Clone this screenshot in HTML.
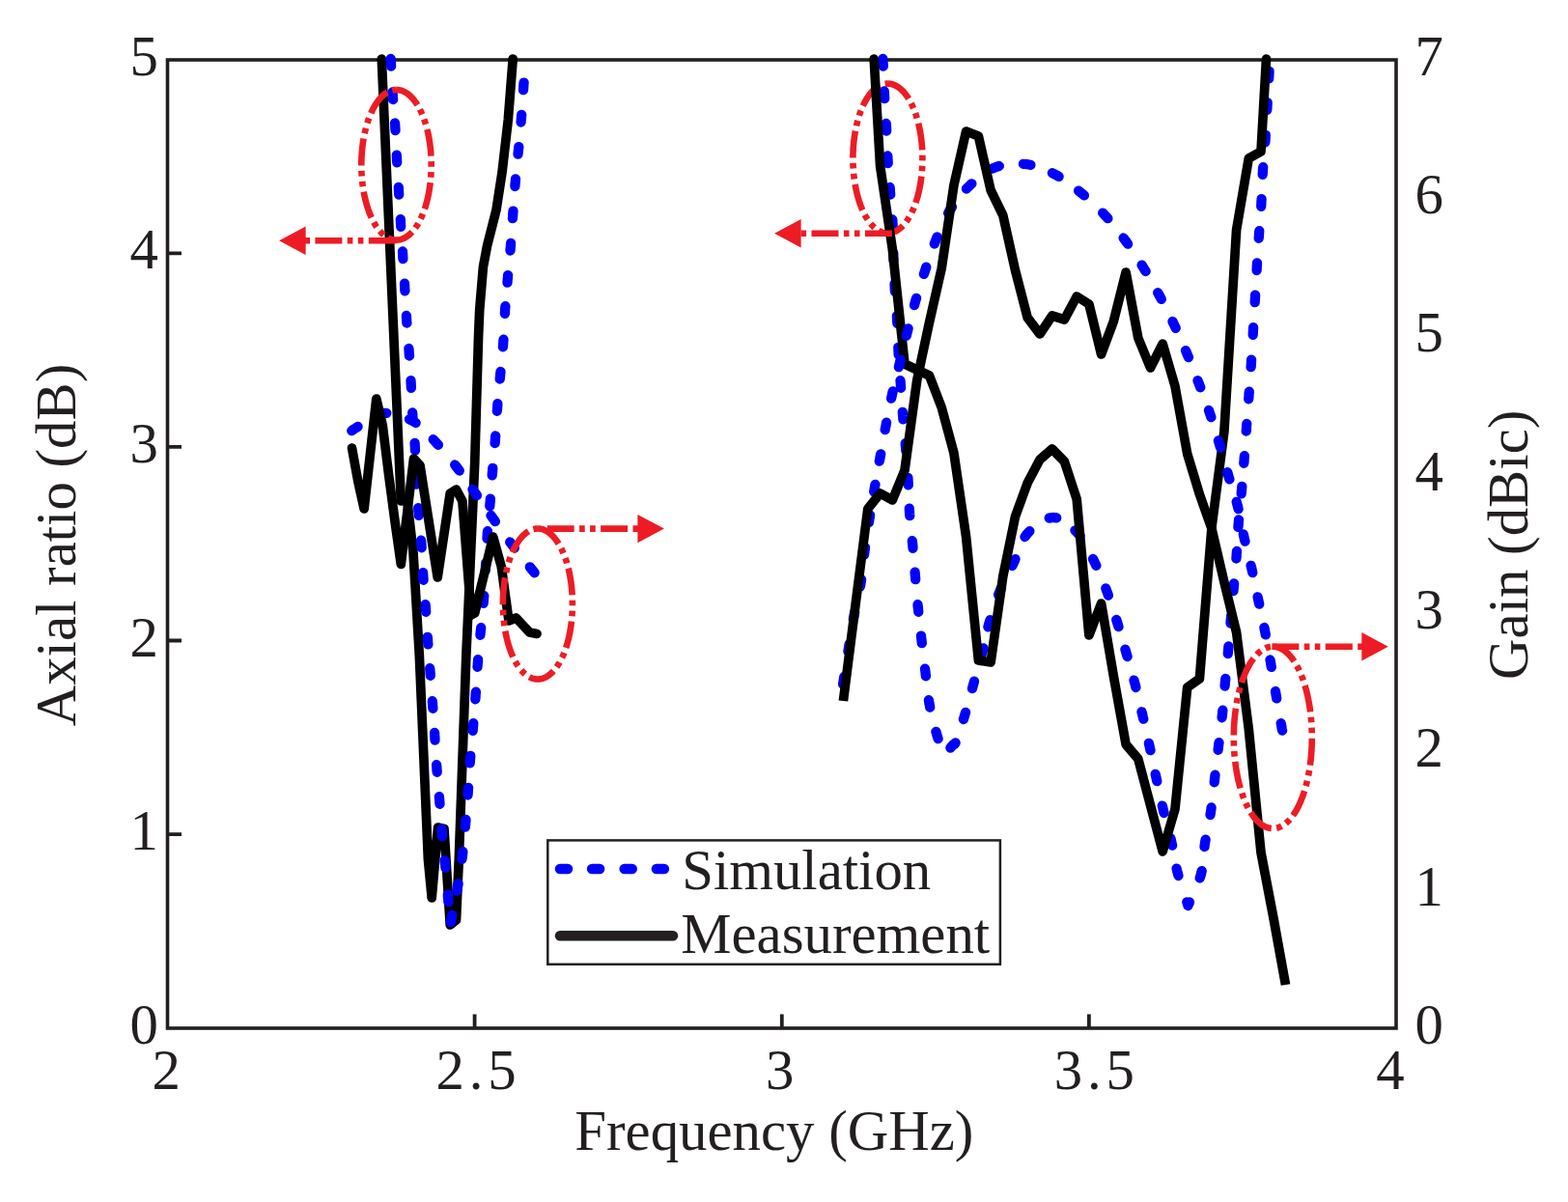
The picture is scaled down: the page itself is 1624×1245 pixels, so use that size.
<!DOCTYPE html>
<html lang="en"><head><meta charset="utf-8"><title>Axial ratio and gain versus frequency</title>
<style>html,body{margin:0;padding:0;background:#fff}body{width:1624px;height:1245px;overflow:hidden}</style>
</head><body>
<svg width="1624" height="1245" viewBox="0 0 1624 1245" style="display:block">
<rect width="1624" height="1245" fill="#fff"/>
<rect x="173.5" y="62.0" width="1272.5" height="1003.0" fill="none" stroke="#231f20" stroke-width="3.6"/>
<path d="M173.5 864.1 h14.5 M173.5 663.5 h14.5 M173.5 462.9 h14.5 M173.5 262.3 h14.5 M491.6 1065.0 v-14.5 M809.8 1065.0 v-14.5 M1127.9 1065.0 v-14.5" stroke="#231f20" stroke-width="3.8" fill="none"/>
<path d="M914.4 61.0 L914.5 62.9 L914.6 64.8 L914.7 66.7 L914.8 68.6 M915.8 94.5 L915.9 96.4 L916.0 98.3 L916.1 100.2 L916.2 102.1 M917.8 128.0 L917.9 129.9 L918.0 131.8 L918.1 133.7 L918.2 135.6 M919.3 161.5 L919.4 163.4 L919.5 165.3 L919.6 167.2 L919.7 169.1 M921.6 194.0 L921.8 195.9 L921.9 197.8 L922.0 199.7 L922.2 201.6 M924.3 227.5 L924.4 229.4 L924.5 231.3 L924.6 233.2 L924.7 235.1 M925.3 262.2 L925.3 264.1 L925.4 266.0 L925.5 267.9 L925.5 269.8 M926.5 294.2 L926.6 296.1 L926.7 298.0 L926.8 299.9 L926.9 301.8 M928.9 327.2 L929.0 329.1 L929.1 331.0 L929.2 332.9 L929.3 334.8 M930.3 359.8 L930.4 361.7 L930.5 363.6 L930.6 365.5 L930.7 367.4 M932.5 394.2 L932.7 396.1 L932.8 398.0 L932.9 399.9 L933.1 401.8 M934.8 426.8 L935.0 428.7 L935.1 430.6 L935.3 432.5 L935.4 434.4 M937.7 459.2 L937.8 461.1 L938.0 463.0 L938.2 464.9 L938.3 466.8 M940.4 494.8 L940.5 496.7 L940.6 498.6 L940.7 500.5 L940.8 502.4 M941.8 526.6 L941.9 528.5 L942.0 530.4 L942.1 532.3 L942.3 534.2 M944.8 560.2 L945.0 562.1 L945.2 564.0 L945.4 565.9 L945.5 567.8 M947.6 592.6 L947.7 594.5 L947.9 596.4 L948.1 598.3 L948.2 600.2 M950.5 626.2 L950.7 628.1 L950.9 630.0 L951.1 631.9 L951.3 633.8 M954.0 658.6 L954.2 660.5 L954.4 662.4 L954.6 664.3 L954.8 666.2 M958.0 692.7 L958.3 694.6 L958.5 696.5 L958.7 698.4 L958.9 700.3 M961.9 725.2 L962.2 727.0 L962.5 728.9 L962.9 730.8 L963.2 732.6 M969.4 757.9 L970.0 759.8 L970.5 761.6 L971.0 763.4 L971.6 765.2 M984.4 774.6 L985.6 773.2 L986.8 771.7 L988.5 770.9 L989.6 769.4 M997.9 745.0 L998.5 743.2 L999.0 741.4 L999.5 739.6 L1000.1 737.8 M1007.0 713.1 L1007.5 711.2 L1008.0 709.4 L1008.5 707.6 L1009.0 705.7 M1016.5 678.7 L1017.0 676.8 L1017.5 675.0 L1018.0 673.2 L1018.4 671.3 M1023.4 649.4 L1023.9 647.5 L1024.4 645.7 L1024.9 643.9 L1025.5 642.1 M1034.1 616.0 L1034.8 614.3 L1035.5 612.5 L1036.2 610.7 L1037.0 609.0 M1048.3 586.0 L1049.2 584.3 L1050.0 582.6 L1050.8 580.9 L1051.5 579.1 M1061.5 556.0 L1062.6 554.5 L1063.8 553.0 L1065.1 551.6 L1066.4 550.2 M1086.7 536.6 L1088.5 536.2 L1090.4 536.0 L1092.3 536.1 L1094.2 536.4 M1113.4 549.3 L1114.7 550.6 L1116.0 552.0 L1117.3 553.4 L1118.5 554.9 M1132.0 579.0 L1132.9 580.7 L1133.7 582.4 L1134.5 584.1 L1135.4 585.8 M1145.3 609.4 L1145.9 611.2 L1146.6 613.0 L1147.3 614.8 L1147.9 616.6 M1156.3 641.9 L1156.8 643.7 L1157.4 645.5 L1158.0 647.3 L1158.5 649.1 M1165.4 672.6 L1166.0 674.5 L1166.5 676.3 L1167.0 678.1 L1167.6 680.0 M1174.5 704.6 L1175.0 706.5 L1175.5 708.3 L1176.0 710.1 L1176.4 712.0 M1182.5 737.3 L1183.0 739.1 L1183.4 741.0 L1183.8 742.9 L1184.3 744.7 M1189.9 769.8 L1190.3 771.6 L1190.7 773.5 L1191.1 775.4 L1191.5 777.2 M1196.7 801.8 L1197.1 803.6 L1197.5 805.5 L1197.9 807.4 L1198.3 809.2 M1203.8 834.6 L1204.3 836.5 L1204.7 838.3 L1205.1 840.1 L1205.6 842.0 M1212.4 868.3 L1212.9 870.1 L1213.3 872.0 L1213.7 873.9 L1214.1 875.7 M1218.6 899.6 L1219.0 901.5 L1219.5 903.3 L1220.0 905.1 L1220.5 907.0 M1229.3 934.4 L1229.9 936.2 L1230.5 938.0 L1231.2 936.2 L1232.0 934.5 M1242.7 909.4 L1243.3 907.6 L1243.8 905.8 L1244.3 904.0 L1244.7 902.1 M1247.5 877.1 L1247.7 875.2 L1248.0 873.3 L1248.3 871.4 L1248.6 869.6 M1253.5 844.0 L1253.8 842.1 L1254.1 840.2 L1254.4 838.3 L1254.6 836.4 M1257.7 810.3 L1257.9 808.4 L1258.1 806.5 L1258.3 804.6 L1258.5 802.7 M1261.6 776.8 L1261.8 774.9 L1262.0 773.0 L1262.2 771.1 L1262.5 769.2 M1265.6 743.3 L1265.8 741.4 L1266.0 739.5 L1266.2 737.6 L1266.4 735.7 M1268.6 710.6 L1268.7 708.7 L1268.9 706.8 L1269.1 704.9 L1269.3 703.0 M1271.8 677.1 L1271.9 675.2 L1272.1 673.3 L1272.3 671.4 L1272.4 669.5 M1274.5 645.5 L1274.6 643.6 L1274.8 641.7 L1275.0 639.8 L1275.1 637.9 M1277.5 612.0 L1277.6 610.1 L1277.8 608.2 L1278.0 606.3 L1278.1 604.4 M1280.4 578.5 L1280.6 576.6 L1280.7 574.7 L1280.8 572.8 L1281.0 570.9 M1282.4 546.0 L1282.6 544.1 L1282.7 542.2 L1282.9 540.3 L1283.0 538.4 M1285.7 511.4 L1285.8 509.5 L1286.0 507.6 L1286.2 505.7 L1286.3 503.8 M1288.3 479.8 L1288.5 477.9 L1288.6 476.0 L1288.7 474.1 L1288.9 472.2 M1290.7 446.6 L1290.9 444.7 L1291.0 442.8 L1291.1 440.9 L1291.3 439.0 M1293.2 413.3 L1293.4 411.4 L1293.5 409.5 L1293.6 407.6 L1293.8 405.7 M1295.6 380.2 L1295.8 378.3 L1295.9 376.4 L1296.0 374.5 L1296.1 372.6 M1297.7 346.8 L1297.8 344.9 L1297.9 343.0 L1298.0 341.1 L1298.1 339.2 M1299.7 313.2 L1299.8 311.3 L1299.9 309.4 L1300.0 307.5 L1300.1 305.6 M1301.6 280.0 L1301.7 278.1 L1301.8 276.2 L1301.9 274.3 L1302.0 272.4 M1303.7 246.8 L1303.9 244.9 L1304.0 243.0 L1304.1 241.1 L1304.3 239.2 M1306.2 213.8 L1306.3 211.9 L1306.4 210.0 L1306.5 208.1 L1306.6 206.2 M1307.7 180.8 L1307.8 178.9 L1307.9 177.0 L1308.0 175.1 L1308.2 173.2 M1310.3 147.4 L1310.5 145.5 L1310.6 143.6 L1310.7 141.7 L1310.8 139.8 M1312.3 113.8 L1312.4 111.9 L1312.5 110.0 L1312.6 108.1 L1312.7 106.2 M1314.2 81.4 L1314.3 79.5 L1314.4 77.6 L1314.5 75.7 L1314.6 73.8" fill="none" stroke="#0000ff" stroke-width="10.3" stroke-linecap="round" stroke-linejoin="round"/>
<path d="M919.40 86.60 L920.34 86.63 L921.28 86.71 L922.22 86.84 L923.16 87.02 L924.10 87.26 L925.03 87.55 L925.96 87.90 L926.88 88.29 L927.80 88.74 L928.72 89.24 L929.62 89.79 L930.52 90.39 L931.42 91.05 L932.30 91.75 L933.18 92.50 L934.04 93.30 L934.90 94.15 L935.74 95.05 L936.58 95.99 L937.40 96.98 L938.21 98.02 L939.01 99.10 L939.79 100.23 L940.56 101.40 L941.32 102.62 L942.06 103.87 L942.78 105.17 L943.49 106.51 L944.18 107.88 L944.86 109.30 L945.51 110.75 L946.15 112.24 L946.77 113.77 L947.38 115.33 L947.96 116.92 L948.52 118.55 L949.07 120.20 L949.59 121.89 L950.10 123.61 L950.58 125.35 L951.04 127.12 L951.48 128.92 L951.89 130.74 L952.29 132.58 L952.66 134.44 L953.01 136.33 L953.34 138.23 L953.64 140.15 L953.92 142.09 L954.17 144.04 L954.41 146.01 L954.61 147.99 L954.80 149.98 L954.96 151.98 L955.09 153.98 L955.20 156.00 L955.29 158.02 L955.35 160.04 L955.39 162.07 L955.40 164.10 L955.39 166.13 L955.35 168.16 L955.29 170.18 L955.20 172.20 L955.09 174.22 L954.96 176.22 L954.80 178.22 L954.61 180.21 L954.41 182.19 L954.17 184.16 L953.92 186.11 L953.64 188.05 L953.34 189.97 L953.01 191.87 L952.66 193.76 L952.29 195.62 L951.89 197.46 L951.48 199.28 L951.04 201.08 L950.58 202.85 L950.10 204.59 L949.59 206.31 L949.07 208.00 L948.52 209.65 L947.96 211.28 L947.38 212.87 L946.77 214.43 L946.15 215.96 L945.51 217.45 L944.86 218.90 L944.18 220.32 L943.49 221.69 L942.78 223.03 L942.06 224.33 L941.32 225.58 L940.56 226.80 L939.79 227.97 L939.01 229.10 L938.21 230.18 L937.40 231.22 L936.58 232.21 L935.74 233.15 L934.90 234.05 L934.04 234.90 L933.18 235.70 L932.30 236.45 L931.42 237.15 L930.52 237.81 L929.62 238.41 L928.72 238.96 L927.80 239.46 L926.88 239.91 L925.96 240.30 L925.03 240.65 L924.10 240.94 L923.16 241.18 L922.22 241.36 L921.28 241.49 L920.34 241.57 L919.40 241.60 L918.46 241.57 L917.52 241.49 L916.58 241.36 L915.64 241.18 L914.70 240.94 L913.77 240.65 L912.84 240.30 L911.92 239.91 L911.00 239.46 L910.08 238.96 L909.18 238.41 L908.28 237.81 L907.38 237.15 L906.50 236.45 L905.62 235.70 L904.76 234.90 L903.90 234.05 L903.06 233.15 L902.22 232.21 L901.40 231.22 L900.59 230.18 L899.79 229.10 L899.01 227.97 L898.24 226.80 L897.48 225.58 L896.74 224.33 L896.02 223.03 L895.31 221.69 L894.62 220.32 L893.94 218.90 L893.29 217.45 L892.65 215.96 L892.03 214.43 L891.42 212.87 L890.84 211.28 L890.28 209.65 L889.73 208.00 L889.21 206.31 L888.70 204.59 L888.22 202.85 L887.76 201.08 L887.32 199.28 L886.91 197.46 L886.51 195.62 L886.14 193.76 L885.79 191.87 L885.46 189.97 L885.16 188.05 L884.88 186.11 L884.63 184.16 L884.39 182.19 L884.19 180.21 L884.00 178.22 L883.84 176.22 L883.71 174.22 L883.60 172.20 L883.51 170.18 L883.45 168.16 L883.41 166.13 L883.40 164.10 L883.41 162.07 L883.45 160.04 L883.51 158.02 L883.60 156.00 L883.71 153.98 L883.84 151.98 L884.00 149.98 L884.19 147.99 L884.39 146.01 L884.63 144.04 L884.88 142.09 L885.16 140.15 L885.46 138.23 L885.79 136.33 L886.14 134.44 L886.51 132.58 L886.91 130.74 L887.32 128.92 L887.76 127.12 L888.22 125.35 L888.70 123.61 L889.21 121.89 L889.73 120.20 L890.28 118.55 L890.84 116.92 L891.42 115.33 L892.03 113.77 L892.65 112.24 L893.29 110.75 L893.94 109.30 L894.62 107.88 L895.31 106.51 L896.02 105.17 L896.74 103.87 L897.48 102.62 L898.24 101.40 L899.01 100.23 L899.79 99.10 L900.59 98.02 L901.40 96.98 L902.22 95.99 L903.06 95.05 L903.90 94.15 L904.76 93.30 L905.62 92.50 L906.50 91.75 L907.38 91.05 L908.28 90.39 L909.18 89.79 L910.08 89.24 L911.00 88.74 L911.92 88.29 L912.84 87.90 L913.77 87.55 L914.70 87.26 L915.64 87.02 L916.58 86.84 L917.52 86.71 L918.46 86.63 L919.40 86.60" fill="none" stroke="#ed1c24" stroke-width="6.6" stroke-dasharray="28 5.4 5.6 5.4 5.6 5.4"/>
<path d="M395.3 61.0 L415.3 519.0 L421.6 517.0 L428.0 572.0 L434.4 680.0 L443.4 890.0 L447.2 930.0 L453.6 857.0 L460.0 858.5 L466.2 958.0 L472.5 953.0 L475.3 890.0 L482.8 680.0 L491.7 480.0 L495.5 350.0 L496.7 321.0 L500.4 276.6 L504.6 254.4 L514.0 217.5 L520.1 178.0 L526.3 124.0 L531.2 61.0" fill="none" stroke="#000" stroke-width="9.7" stroke-linecap="round" stroke-linejoin="round"/>
<path d="M905.2 61.0 L911.6 172.0 L924.3 258.0 L937.0 377.0 L949.7 383.0 L962.5 389.0 L975.2 422.0 L987.9 469.0 L1000.6 556.0 L1013.4 684.0 L1026.1 686.0 L1038.8 597.0 L1051.5 535.0 L1064.3 500.0 L1077.0 476.0 L1089.7 465.0 L1102.4 478.0 L1115.2 517.0 L1127.9 658.0 L1140.6 625.0 L1153.3 700.0 L1166.1 771.0 L1178.8 786.0 L1191.5 834.0 L1204.2 882.0 L1217.0 838.0 L1229.7 712.0 L1242.4 703.0 L1255.1 545.0 L1267.9 447.0 L1280.6 238.0 L1293.3 164.0 L1306.0 157.0 L1311.5 61.0" fill="none" stroke="#000" stroke-width="9.7" stroke-linecap="round" stroke-linejoin="round"/>
<path d="M404.7 61.0 L404.8 62.9 L404.9 64.8 L405.0 66.7 L405.1 68.6 M406.6 95.5 L406.7 97.4 L406.8 99.3 L406.9 101.2 L407.1 103.1 M409.0 127.5 L409.2 129.4 L409.3 131.3 L409.4 133.2 L409.5 135.1 M410.8 160.7 L410.9 162.6 L411.0 164.5 L411.1 166.4 L411.2 168.3 M412.8 194.0 L412.9 195.9 L413.0 197.8 L413.1 199.7 L413.2 201.6 M414.8 227.2 L414.9 229.1 L415.0 231.0 L415.1 232.9 L415.2 234.8 M417.0 260.5 L417.1 262.4 L417.2 264.3 L417.3 266.2 L417.4 268.1 M419.0 293.7 L419.1 295.6 L419.2 297.5 L419.3 299.4 L419.4 301.3 M420.9 327.0 L421.0 328.9 L421.1 330.8 L421.2 332.7 L421.4 334.6 M423.4 361.0 L423.6 362.9 L423.7 364.8 L423.8 366.7 L424.0 368.6 M425.5 394.2 L425.6 396.1 L425.7 398.0 L425.8 399.9 L425.9 401.8 M427.2 427.5 L427.3 429.4 L427.4 431.3 L427.5 433.2 L427.7 435.1 M429.6 458.9 L429.7 460.8 L429.8 462.7 L429.9 464.6 L430.0 466.5 M431.0 494.0 L431.1 495.9 L431.2 497.8 L431.3 499.7 L431.4 501.6 M433.2 526.2 L433.3 528.1 L433.5 530.0 L433.7 531.9 L433.8 533.8 M436.1 559.7 L436.3 561.6 L436.4 563.5 L436.5 565.4 L436.7 567.3 M438.1 593.2 L438.2 595.1 L438.3 597.0 L438.4 598.9 L438.6 600.8 M440.6 626.2 L440.8 628.1 L440.9 630.0 L441.0 631.9 L441.2 633.8 M442.8 659.8 L443.0 661.7 L443.1 663.6 L443.2 665.5 L443.4 667.4 M445.2 692.2 L445.4 694.1 L445.5 696.0 L445.6 697.9 L445.8 699.8 M447.8 726.2 L448.0 728.1 L448.1 730.0 L448.2 731.9 L448.4 733.8 M450.1 759.0 L450.2 760.9 L450.3 762.8 L450.4 764.7 L450.5 766.6 M452.1 792.2 L452.3 794.1 L452.4 796.0 L452.5 797.9 L452.7 799.8 M454.9 825.2 L455.0 827.1 L455.2 829.0 L455.3 830.9 L455.5 832.8 M457.4 858.6 L457.5 860.5 L457.7 862.4 L457.9 864.3 L458.0 866.2 M460.6 891.2 L460.8 893.1 L461.0 895.0 L461.2 896.9 L461.4 898.8 M463.8 926.6 L463.9 928.5 L464.1 930.4 L464.3 932.3 L464.4 934.2 M466.9 955.2 L467.2 953.4 L467.6 951.5 L468.0 949.6 L468.3 947.8 M473.3 922.7 L473.7 920.9 L474.0 919.0 L474.3 917.1 L474.6 915.3 M478.5 889.8 L478.8 887.9 L479.0 886.0 L479.2 884.1 L479.4 882.2 M481.9 856.6 L482.0 854.7 L482.2 852.8 L482.4 850.9 L482.5 849.0 M484.5 823.5 L484.7 821.6 L484.8 819.7 L484.9 817.8 L485.1 815.9 M486.7 790.4 L486.9 788.5 L487.0 786.6 L487.2 784.7 L487.3 782.8 M489.7 756.8 L489.8 754.9 L490.0 753.0 L490.2 751.1 L490.3 749.2 M492.3 724.3 L492.5 722.4 L492.6 720.5 L492.7 718.6 L492.9 716.7 M494.5 690.8 L494.7 688.9 L494.8 687.0 L495.0 685.1 L495.1 683.2 M497.4 657.8 L497.6 655.9 L497.8 654.0 L498.0 652.1 L498.2 650.2 M500.7 624.8 L500.8 622.9 L501.0 621.0 L501.1 619.1 L501.3 617.2 M502.8 590.8 L502.9 588.9 L503.0 587.0 L503.1 585.1 L503.2 583.2 M504.5 557.8 L504.6 555.9 L504.7 554.0 L504.8 552.1 L505.0 550.2 M507.3 524.3 L507.4 522.4 L507.6 520.5 L507.8 518.6 L507.9 516.7 M509.7 492.4 L509.8 490.5 L510.0 488.6 L510.2 486.7 L510.3 484.8 M512.6 459.1 L512.8 457.2 L512.9 455.3 L513.0 453.4 L513.2 451.5 M514.8 425.8 L515.0 423.9 L515.1 422.0 L515.3 420.1 L515.4 418.2 M517.7 392.6 L517.9 390.7 L518.1 388.8 L518.3 386.9 L518.5 385.0 M520.9 359.3 L521.1 357.4 L521.2 355.5 L521.3 353.6 L521.5 351.7 M522.9 324.8 L523.0 322.9 L523.1 321.0 L523.2 319.1 L523.4 317.2 M525.5 292.7 L525.6 290.8 L525.8 288.9 L526.0 287.0 L526.1 285.1 M528.5 259.5 L528.6 257.6 L528.8 255.7 L529.0 253.8 L529.1 251.9 M530.9 226.2 L531.1 224.3 L531.2 222.4 L531.3 220.5 L531.5 218.6 M533.4 193.0 L533.5 191.1 L533.7 189.2 L533.9 187.3 L534.0 185.4 M536.5 159.7 L536.7 157.8 L536.9 155.9 L537.1 154.0 L537.3 152.1 M539.6 126.5 L539.7 124.6 L539.9 122.7 L540.1 120.8 L540.2 118.9 M542.0 93.2 L542.2 91.3 L542.3 89.4 L542.4 87.5 L542.6 85.6 M364.3 446.1 L365.8 445.0 L367.4 444.0 L369.0 443.0 L370.6 441.9 M392.8 428.9 L394.6 428.4 L396.5 428.0 L398.4 427.8 L400.3 427.8 M424.0 434.3 L425.7 435.1 L427.4 436.0 L429.0 437.0 L430.6 438.0 M448.7 455.2 L450.0 456.6 L451.3 458.0 L452.6 459.4 L453.9 460.8 M471.2 481.5 L472.3 483.0 L473.5 484.5 L474.7 486.0 L475.8 487.5 M489.5 506.9 L490.6 508.4 L491.7 510.0 L492.8 511.6 L493.9 513.1 M508.5 533.9 L509.6 535.5 L510.7 537.0 L511.8 538.5 L512.9 540.1 M528.2 561.5 L529.4 563.0 L530.5 564.5 L531.7 566.0 L532.8 567.5 M548.8 587.3 L550.0 588.8 L551.2 590.3 L552.4 591.8 L553.6 593.3 M873.1 708.6 L873.4 706.7 L873.7 704.8 L874.0 702.9 L874.3 701.0 M878.4 674.8 L878.7 672.9 L879.0 671.0 L879.3 669.1 L879.6 667.2 M883.8 641.5 L884.2 639.7 L884.5 637.8 L884.9 635.9 L885.2 634.1 M890.8 607.7 L891.2 605.9 L891.5 604.0 L891.8 602.1 L892.1 600.2 M895.0 574.6 L895.3 572.7 L895.5 570.8 L895.8 568.9 L896.0 567.0 M899.9 541.1 L900.2 539.2 L900.5 537.3 L900.8 535.4 L901.1 533.5 M905.2 509.3 L905.5 507.5 L905.8 505.6 L906.1 503.7 L906.5 501.9 M910.8 477.7 L911.2 475.9 L911.5 474.0 L911.8 472.1 L912.2 470.3 M916.7 445.1 L917.0 443.3 L917.4 441.4 L917.8 439.5 L918.1 437.7 M923.1 412.7 L923.5 410.9 L923.9 409.0 L924.3 407.1 L924.7 405.3 M930.9 380.1 L931.3 378.2 L931.8 376.4 L932.2 374.6 L932.7 372.7 M938.8 347.7 L939.2 345.8 L939.7 344.0 L940.2 342.2 L940.6 340.3 M947.0 316.1 L947.5 314.2 L948.0 312.4 L948.5 310.6 L949.1 308.8 M956.9 283.9 L957.5 282.1 L958.1 280.3 L958.7 278.5 L959.3 276.7 M967.8 252.5 L968.5 250.8 L969.2 249.0 L969.9 247.2 L970.6 245.5 M982.1 220.8 L983.0 219.1 L984.0 217.5 L985.0 215.9 L986.0 214.3 M1000.9 195.6 L1002.2 194.2 L1003.6 192.9 L1005.0 191.6 L1006.4 190.3 M1027.7 174.7 L1029.4 173.9 L1031.2 173.2 L1033.0 172.6 L1034.8 172.0 M1059.9 169.8 L1061.8 170.0 L1063.7 170.2 L1065.6 170.5 L1067.4 170.8 M1089.9 179.2 L1091.6 180.1 L1093.3 181.0 L1095.0 181.9 L1096.6 182.9 M1117.1 197.6 L1118.5 198.8 L1120.0 200.0 L1121.5 201.2 L1122.9 202.4 M1142.2 220.6 L1143.5 222.0 L1144.8 223.4 L1146.1 224.8 L1147.4 226.2 M1163.6 246.5 L1164.8 248.1 L1165.9 249.6 L1167.0 251.1 L1168.1 252.7 M1182.6 274.6 L1183.6 276.2 L1184.6 277.8 L1185.6 279.4 L1186.6 281.0 M1199.2 303.2 L1200.1 304.8 L1201.0 306.5 L1201.9 308.2 L1202.8 309.9 M1214.5 333.0 L1215.3 334.7 L1216.1 336.4 L1216.9 338.1 L1217.7 339.8 M1228.0 363.1 L1228.8 364.8 L1229.5 366.6 L1230.2 368.4 L1231.0 370.1 M1240.5 394.2 L1241.2 395.9 L1241.9 397.7 L1242.6 399.5 L1243.3 401.3 M1252.0 425.0 L1252.6 426.8 L1253.2 428.6 L1253.8 430.4 L1254.4 432.2 M1261.9 456.5 L1262.5 458.3 L1263.0 460.1 L1263.5 461.9 L1264.1 463.7 M1271.2 489.2 L1271.8 491.0 L1272.3 492.8 L1272.8 494.6 L1273.4 496.4 M1280.7 519.8 L1281.2 521.7 L1281.7 523.5 L1282.2 525.3 L1282.6 527.2 M1287.8 553.3 L1288.2 555.1 L1288.6 557.0 L1289.0 558.9 L1289.5 560.7 M1295.6 585.8 L1296.1 587.6 L1296.5 589.5 L1296.9 591.4 L1297.3 593.2 M1302.6 618.3 L1303.0 620.1 L1303.4 622.0 L1303.8 623.9 L1304.2 625.7 M1309.4 650.0 L1309.7 651.8 L1310.1 653.7 L1310.5 655.6 L1310.8 657.4 M1315.5 683.5 L1315.9 685.3 L1316.2 687.2 L1316.5 689.1 L1316.8 690.9 M1321.0 716.0 L1321.3 717.8 L1321.6 719.7 L1321.9 721.6 L1322.2 723.4 M1326.7 749.2 L1327.1 751.0 L1327.4 752.9 L1327.7 754.8 L1328.1 756.6" fill="none" stroke="#0000ff" stroke-width="10.3" stroke-linecap="round" stroke-linejoin="round"/>
<path d="M364.5 464.0 L370.7 498.0 L377.1 527.0 L389.8 413.0 L396.2 440.0 L402.5 491.0 L408.9 539.0 L415.3 584.5 L428.5 475.0 L435.0 482.0 L453.2 598.0 L466.2 511.0 L472.5 507.0 L478.9 519.0 L488.0 637.0 L491.7 635.0 L510.7 556.0 L519.3 587.0 L524.5 625.0 L527.0 643.0 L534.5 640.0 L548.5 655.0 L556.0 656.5" fill="none" stroke="#000" stroke-width="9.7" stroke-linecap="round" stroke-linejoin="round"/>
<path d="M873.4 726.0 L886.1 626.0 L898.8 527.0 L911.6 511.0 L924.3 518.0 L937.0 487.0 L949.7 394.0 L962.5 334.0 L975.2 278.0 L987.9 192.0 L1000.6 136.0 L1013.4 141.0 L1026.1 197.0 L1038.8 223.0 L1051.5 280.0 L1064.2 329.0 L1077.0 346.0 L1089.7 327.0 L1102.4 331.0 L1115.2 307.0 L1127.9 315.0 L1140.6 367.0 L1153.3 333.0 L1166.1 282.0 L1178.8 350.0 L1191.5 381.0 L1204.2 356.0 L1217.0 400.0 L1229.7 470.0 L1242.4 512.0 L1255.1 548.0 L1267.9 603.0 L1280.6 655.0 L1293.3 755.0 L1306.0 883.0 L1318.8 950.0 L1331.5 1020.0" fill="none" stroke="#000" stroke-width="9.7" stroke-linecap="butt" stroke-linejoin="round"/>
<path d="M410.50 93.00 L411.45 93.03 L412.39 93.11 L413.34 93.24 L414.28 93.43 L415.23 93.67 L416.16 93.96 L417.10 94.30 L418.03 94.70 L418.95 95.15 L419.87 95.65 L420.78 96.20 L421.69 96.81 L422.58 97.46 L423.47 98.17 L424.35 98.92 L425.22 99.73 L426.08 100.58 L426.93 101.48 L427.77 102.43 L428.60 103.42 L429.41 104.46 L430.22 105.55 L431.00 106.68 L431.78 107.86 L432.54 109.08 L433.28 110.34 L434.01 111.64 L434.72 112.98 L435.42 114.37 L436.10 115.79 L436.76 117.25 L437.40 118.74 L438.03 120.27 L438.63 121.84 L439.22 123.44 L439.79 125.07 L440.33 126.73 L440.86 128.43 L441.37 130.15 L441.85 131.90 L442.31 133.68 L442.75 135.48 L443.17 137.31 L443.57 139.16 L443.94 141.03 L444.30 142.92 L444.62 144.83 L444.93 146.76 L445.21 148.70 L445.47 150.66 L445.70 152.64 L445.91 154.62 L446.09 156.62 L446.25 158.63 L446.39 160.65 L446.50 162.67 L446.59 164.70 L446.65 166.73 L446.69 168.76 L446.70 170.80 L446.69 172.84 L446.65 174.87 L446.59 176.90 L446.50 178.93 L446.39 180.95 L446.25 182.97 L446.09 184.98 L445.91 186.98 L445.70 188.96 L445.47 190.94 L445.21 192.90 L444.93 194.84 L444.62 196.77 L444.30 198.68 L443.94 200.57 L443.57 202.44 L443.17 204.29 L442.75 206.12 L442.31 207.92 L441.85 209.70 L441.37 211.45 L440.86 213.17 L440.33 214.87 L439.79 216.53 L439.22 218.16 L438.63 219.76 L438.03 221.33 L437.40 222.86 L436.76 224.35 L436.10 225.81 L435.42 227.23 L434.72 228.62 L434.01 229.96 L433.28 231.26 L432.54 232.52 L431.78 233.74 L431.00 234.92 L430.22 236.05 L429.41 237.14 L428.60 238.18 L427.77 239.17 L426.93 240.12 L426.08 241.02 L425.22 241.87 L424.35 242.68 L423.47 243.43 L422.58 244.14 L421.69 244.79 L420.78 245.40 L419.87 245.95 L418.95 246.45 L418.03 246.90 L417.10 247.30 L416.16 247.64 L415.23 247.93 L414.28 248.17 L413.34 248.36 L412.39 248.49 L411.45 248.57 L410.50 248.60 L409.55 248.57 L408.61 248.49 L407.66 248.36 L406.72 248.17 L405.77 247.93 L404.84 247.64 L403.90 247.30 L402.97 246.90 L402.05 246.45 L401.13 245.95 L400.22 245.40 L399.31 244.79 L398.42 244.14 L397.53 243.43 L396.65 242.68 L395.78 241.87 L394.92 241.02 L394.07 240.12 L393.23 239.17 L392.40 238.18 L391.59 237.14 L390.78 236.05 L390.00 234.92 L389.22 233.74 L388.46 232.52 L387.72 231.26 L386.99 229.96 L386.28 228.62 L385.58 227.23 L384.90 225.81 L384.24 224.35 L383.60 222.86 L382.97 221.33 L382.37 219.76 L381.78 218.16 L381.21 216.53 L380.67 214.87 L380.14 213.17 L379.63 211.45 L379.15 209.70 L378.69 207.92 L378.25 206.12 L377.83 204.29 L377.43 202.44 L377.06 200.57 L376.70 198.68 L376.38 196.77 L376.07 194.84 L375.79 192.90 L375.53 190.94 L375.30 188.96 L375.09 186.98 L374.91 184.98 L374.75 182.97 L374.61 180.95 L374.50 178.93 L374.41 176.90 L374.35 174.87 L374.31 172.84 L374.30 170.80 L374.31 168.76 L374.35 166.73 L374.41 164.70 L374.50 162.67 L374.61 160.65 L374.75 158.63 L374.91 156.62 L375.09 154.62 L375.30 152.64 L375.53 150.66 L375.79 148.70 L376.07 146.76 L376.38 144.83 L376.70 142.92 L377.06 141.03 L377.43 139.16 L377.83 137.31 L378.25 135.48 L378.69 133.68 L379.15 131.90 L379.63 130.15 L380.14 128.43 L380.67 126.73 L381.21 125.07 L381.78 123.44 L382.37 121.84 L382.97 120.27 L383.60 118.74 L384.24 117.25 L384.90 115.79 L385.58 114.37 L386.28 112.98 L386.99 111.64 L387.72 110.34 L388.46 109.08 L389.22 107.86 L390.00 106.68 L390.78 105.55 L391.59 104.46 L392.40 103.42 L393.23 102.43 L394.07 101.48 L394.92 100.58 L395.78 99.73 L396.65 98.92 L397.53 98.17 L398.42 97.46 L399.31 96.81 L400.22 96.20 L401.13 95.65 L402.05 95.15 L402.97 94.70 L403.90 94.30 L404.84 93.96 L405.77 93.67 L406.72 93.43 L407.66 93.24 L408.61 93.11 L409.55 93.03 L410.50 93.00" fill="none" stroke="#ed1c24" stroke-width="6.6" stroke-dasharray="28 5.4 5.6 5.4 5.6 5.4"/>
<path d="M556.90 547.50 L557.84 547.53 L558.78 547.61 L559.72 547.74 L560.66 547.93 L561.60 548.17 L562.53 548.46 L563.46 548.81 L564.38 549.20 L565.30 549.66 L566.22 550.16 L567.12 550.71 L568.02 551.32 L568.92 551.97 L569.80 552.68 L570.68 553.44 L571.54 554.24 L572.40 555.10 L573.24 556.00 L574.08 556.95 L574.90 557.95 L575.71 558.99 L576.51 560.08 L577.29 561.22 L578.06 562.40 L578.82 563.62 L579.56 564.88 L580.28 566.19 L580.99 567.53 L581.68 568.92 L582.36 570.35 L583.01 571.81 L583.65 573.31 L584.27 574.84 L584.88 576.41 L585.46 578.02 L586.02 579.65 L586.57 581.32 L587.09 583.02 L587.60 584.75 L588.08 586.50 L588.54 588.28 L588.98 590.09 L589.39 591.92 L589.79 593.77 L590.16 595.65 L590.51 597.55 L590.84 599.46 L591.14 601.40 L591.42 603.35 L591.67 605.31 L591.91 607.29 L592.11 609.28 L592.30 611.29 L592.46 613.30 L592.59 615.32 L592.70 617.35 L592.79 619.38 L592.85 621.42 L592.89 623.46 L592.90 625.50 L592.89 627.54 L592.85 629.58 L592.79 631.62 L592.70 633.65 L592.59 635.68 L592.46 637.70 L592.30 639.71 L592.11 641.72 L591.91 643.71 L591.67 645.69 L591.42 647.65 L591.14 649.60 L590.84 651.54 L590.51 653.45 L590.16 655.35 L589.79 657.23 L589.39 659.08 L588.98 660.91 L588.54 662.72 L588.08 664.50 L587.60 666.25 L587.09 667.98 L586.57 669.68 L586.02 671.35 L585.46 672.98 L584.88 674.59 L584.27 676.16 L583.65 677.69 L583.01 679.19 L582.36 680.65 L581.68 682.08 L580.99 683.47 L580.28 684.81 L579.56 686.12 L578.82 687.38 L578.06 688.60 L577.29 689.78 L576.51 690.92 L575.71 692.01 L574.90 693.05 L574.08 694.05 L573.24 695.00 L572.40 695.90 L571.54 696.76 L570.68 697.56 L569.80 698.32 L568.92 699.03 L568.02 699.68 L567.12 700.29 L566.22 700.84 L565.30 701.34 L564.38 701.80 L563.46 702.19 L562.53 702.54 L561.60 702.83 L560.66 703.07 L559.72 703.26 L558.78 703.39 L557.84 703.47 L556.90 703.50 L555.96 703.47 L555.02 703.39 L554.08 703.26 L553.14 703.07 L552.20 702.83 L551.27 702.54 L550.34 702.19 L549.42 701.80 L548.50 701.34 L547.58 700.84 L546.68 700.29 L545.78 699.68 L544.88 699.03 L544.00 698.32 L543.12 697.56 L542.26 696.76 L541.40 695.90 L540.56 695.00 L539.72 694.05 L538.90 693.05 L538.09 692.01 L537.29 690.92 L536.51 689.78 L535.74 688.60 L534.98 687.38 L534.24 686.12 L533.52 684.81 L532.81 683.47 L532.12 682.08 L531.44 680.65 L530.79 679.19 L530.15 677.69 L529.53 676.16 L528.92 674.59 L528.34 672.98 L527.78 671.35 L527.23 669.68 L526.71 667.98 L526.20 666.25 L525.72 664.50 L525.26 662.72 L524.82 660.91 L524.41 659.08 L524.01 657.23 L523.64 655.35 L523.29 653.45 L522.96 651.54 L522.66 649.60 L522.38 647.65 L522.13 645.69 L521.89 643.71 L521.69 641.72 L521.50 639.71 L521.34 637.70 L521.21 635.68 L521.10 633.65 L521.01 631.62 L520.95 629.58 L520.91 627.54 L520.90 625.50 L520.91 623.46 L520.95 621.42 L521.01 619.38 L521.10 617.35 L521.21 615.32 L521.34 613.30 L521.50 611.29 L521.69 609.28 L521.89 607.29 L522.13 605.31 L522.38 603.35 L522.66 601.40 L522.96 599.46 L523.29 597.55 L523.64 595.65 L524.01 593.77 L524.41 591.92 L524.82 590.09 L525.26 588.28 L525.72 586.50 L526.20 584.75 L526.71 583.02 L527.23 581.32 L527.78 579.65 L528.34 578.02 L528.92 576.41 L529.53 574.84 L530.15 573.31 L530.79 571.81 L531.44 570.35 L532.12 568.92 L532.81 567.53 L533.52 566.19 L534.24 564.88 L534.98 563.62 L535.74 562.40 L536.51 561.22 L537.29 560.08 L538.09 558.99 L538.90 557.95 L539.72 556.95 L540.56 556.00 L541.40 555.10 L542.26 554.24 L543.12 553.44 L544.00 552.68 L544.88 551.97 L545.78 551.32 L546.68 550.71 L547.58 550.16 L548.50 549.66 L549.42 549.20 L550.34 548.81 L551.27 548.46 L552.20 548.17 L553.14 547.93 L554.08 547.74 L555.02 547.61 L555.96 547.53 L556.90 547.50" fill="none" stroke="#ed1c24" stroke-width="6.6" stroke-dasharray="28 5.4 5.6 5.4 5.6 5.4"/>
<path d="M1318.30 669.70 L1319.36 669.73 L1320.42 669.83 L1321.48 669.99 L1322.53 670.22 L1323.59 670.51 L1324.64 670.86 L1325.68 671.28 L1326.72 671.76 L1327.75 672.30 L1328.78 672.91 L1329.80 673.58 L1330.82 674.31 L1331.82 675.10 L1332.81 675.96 L1333.80 676.87 L1334.77 677.84 L1335.74 678.88 L1336.69 679.97 L1337.62 681.12 L1338.55 682.32 L1339.46 683.58 L1340.36 684.90 L1341.24 686.27 L1342.11 687.69 L1342.95 689.17 L1343.79 690.69 L1344.60 692.27 L1345.40 693.90 L1346.18 695.57 L1346.94 697.29 L1347.68 699.06 L1348.40 700.87 L1349.10 702.72 L1349.77 704.62 L1350.43 706.55 L1351.07 708.53 L1351.68 710.54 L1352.27 712.60 L1352.83 714.68 L1353.37 716.80 L1353.89 718.95 L1354.39 721.13 L1354.85 723.35 L1355.30 725.59 L1355.72 727.85 L1356.11 730.14 L1356.48 732.46 L1356.82 734.79 L1357.13 737.15 L1357.42 739.52 L1357.68 741.91 L1357.91 744.31 L1358.12 746.73 L1358.30 749.16 L1358.45 751.60 L1358.58 754.05 L1358.68 756.51 L1358.74 758.97 L1358.79 761.43 L1358.80 763.90 L1358.79 766.37 L1358.74 768.83 L1358.68 771.29 L1358.58 773.75 L1358.45 776.20 L1358.30 778.64 L1358.12 781.07 L1357.91 783.49 L1357.68 785.89 L1357.42 788.28 L1357.13 790.65 L1356.82 793.01 L1356.48 795.34 L1356.11 797.66 L1355.72 799.95 L1355.30 802.21 L1354.85 804.45 L1354.39 806.67 L1353.89 808.85 L1353.37 811.00 L1352.83 813.12 L1352.27 815.20 L1351.68 817.26 L1351.07 819.27 L1350.43 821.25 L1349.77 823.18 L1349.10 825.08 L1348.40 826.93 L1347.68 828.74 L1346.94 830.51 L1346.18 832.23 L1345.40 833.90 L1344.60 835.53 L1343.79 837.11 L1342.95 838.63 L1342.11 840.11 L1341.24 841.53 L1340.36 842.90 L1339.46 844.22 L1338.55 845.48 L1337.62 846.68 L1336.69 847.83 L1335.74 848.92 L1334.77 849.96 L1333.80 850.93 L1332.81 851.84 L1331.82 852.70 L1330.82 853.49 L1329.80 854.22 L1328.78 854.89 L1327.75 855.50 L1326.72 856.04 L1325.68 856.52 L1324.64 856.94 L1323.59 857.29 L1322.53 857.58 L1321.48 857.81 L1320.42 857.97 L1319.36 858.07 L1318.30 858.10 L1317.24 858.07 L1316.18 857.97 L1315.12 857.81 L1314.07 857.58 L1313.01 857.29 L1311.96 856.94 L1310.92 856.52 L1309.88 856.04 L1308.85 855.50 L1307.82 854.89 L1306.80 854.22 L1305.78 853.49 L1304.78 852.70 L1303.79 851.84 L1302.80 850.93 L1301.83 849.96 L1300.86 848.92 L1299.91 847.83 L1298.98 846.68 L1298.05 845.48 L1297.14 844.22 L1296.24 842.90 L1295.36 841.53 L1294.49 840.11 L1293.65 838.63 L1292.81 837.11 L1292.00 835.53 L1291.20 833.90 L1290.42 832.23 L1289.66 830.51 L1288.92 828.74 L1288.20 826.93 L1287.50 825.08 L1286.83 823.18 L1286.17 821.25 L1285.53 819.27 L1284.92 817.26 L1284.33 815.20 L1283.77 813.12 L1283.23 811.00 L1282.71 808.85 L1282.21 806.67 L1281.75 804.45 L1281.30 802.21 L1280.88 799.95 L1280.49 797.66 L1280.12 795.34 L1279.78 793.01 L1279.47 790.65 L1279.18 788.28 L1278.92 785.89 L1278.69 783.49 L1278.48 781.07 L1278.30 778.64 L1278.15 776.20 L1278.02 773.75 L1277.92 771.29 L1277.86 768.83 L1277.81 766.37 L1277.80 763.90 L1277.81 761.43 L1277.86 758.97 L1277.92 756.51 L1278.02 754.05 L1278.15 751.60 L1278.30 749.16 L1278.48 746.73 L1278.69 744.31 L1278.92 741.91 L1279.18 739.52 L1279.47 737.15 L1279.78 734.79 L1280.12 732.46 L1280.49 730.14 L1280.88 727.85 L1281.30 725.59 L1281.75 723.35 L1282.21 721.13 L1282.71 718.95 L1283.23 716.80 L1283.77 714.68 L1284.33 712.60 L1284.92 710.54 L1285.53 708.53 L1286.17 706.55 L1286.83 704.62 L1287.50 702.72 L1288.20 700.87 L1288.92 699.06 L1289.66 697.29 L1290.42 695.57 L1291.20 693.90 L1292.00 692.27 L1292.81 690.69 L1293.65 689.17 L1294.49 687.69 L1295.36 686.27 L1296.24 684.90 L1297.14 683.58 L1298.05 682.32 L1298.98 681.12 L1299.91 679.97 L1300.86 678.88 L1301.83 677.84 L1302.80 676.87 L1303.79 675.96 L1304.78 675.10 L1305.78 674.31 L1306.80 673.58 L1307.82 672.91 L1308.85 672.30 L1309.88 671.76 L1310.92 671.28 L1311.96 670.86 L1313.01 670.51 L1314.07 670.22 L1315.12 669.99 L1316.18 669.83 L1317.24 669.73 L1318.30 669.70" fill="none" stroke="#ed1c24" stroke-width="6.6" stroke-dasharray="28 5.4 5.6 5.4 5.6 5.4"/>
<path d="M409.8 249.3 L315.6 249.3" stroke="#ed1c24" stroke-width="6.6" fill="none" stroke-dasharray="28 5.4 5.6 5.4 5.6 5.4" stroke-dashoffset="0"/>
<path d="M289.1 249.3 L316.6 234.60000000000002 L316.6 264.0 Z" fill="#ed1c24"/>
<path d="M923.9 241.8 L828.6 241.8" stroke="#ed1c24" stroke-width="6.6" fill="none" stroke-dasharray="28 5.4 5.6 5.4 5.6 5.4" stroke-dashoffset="0"/>
<path d="M802.1 241.8 L829.6 227.10000000000002 L829.6 256.5 Z" fill="#ed1c24"/>
<path d="M566.7 547.6 L661.4 547.6" stroke="#ed1c24" stroke-width="6.6" fill="none" stroke-dasharray="28 5.4 5.6 5.4 5.6 5.4" stroke-dashoffset="0"/>
<path d="M687.9 547.6 L660.4 532.9 L660.4 562.3000000000001 Z" fill="#ed1c24"/>
<path d="M1317.4 669.7 L1411.3 669.7" stroke="#ed1c24" stroke-width="6.6" fill="none" stroke-dasharray="28 5.4 5.6 5.4 5.6 5.4" stroke-dashoffset="0"/>
<path d="M1437.8 669.7 L1410.3 655.0 L1410.3 684.4000000000001 Z" fill="#ed1c24"/>
<rect x="567.3" y="870.4" width="468.6" height="128.4" fill="#fff" stroke="#231f20" stroke-width="2.5"/>
<path d="M580 900 h8 M613.1 900 h8 M646.7 900 h8 M679.9 900 h8" stroke="#0000ff" stroke-width="10.5" stroke-linecap="round" fill="none"/>
<path d="M580 969.2 H697" stroke="#231f20" stroke-width="10.5" stroke-linecap="round" fill="none"/>
<g font-family="'Liberation Serif', serif" font-size="58.8px" fill="#231f20">
<text x="706.2" y="921.2">Simulation</text>
<text x="705.2" y="987">Measurement</text>
<text x="164" y="1080.8" text-anchor="end">0</text>
<text x="164" y="880.2" text-anchor="end">1</text>
<text x="164" y="679.6" text-anchor="end">2</text>
<text x="164" y="479.0" text-anchor="end">3</text>
<text x="164" y="278.4" text-anchor="end">4</text>
<text x="164" y="77.8" text-anchor="end">5</text>
<text x="1465.5" y="1080.8">0</text>
<text x="1465.5" y="937.5">1</text>
<text x="1465.5" y="794.2">2</text>
<text x="1465.5" y="650.9">3</text>
<text x="1465.5" y="507.7">4</text>
<text x="1465.5" y="364.4">5</text>
<text x="1465.5" y="221.1">6</text>
<text x="1465.5" y="77.8">7</text>
<text x="172.3" y="1127.8" text-anchor="middle">2</text>
<text x="451.6" y="1127.8" letter-spacing="4.8">2.5</text>
<text x="807.8" y="1127.8" text-anchor="middle">3</text>
<text x="1091.8" y="1127.8" letter-spacing="4.8">3.5</text>
<text x="1440" y="1127.8" text-anchor="middle">4</text>
<text x="595.3" y="1190.8">Frequency (GHz)</text>
<text transform="translate(78.4 564.5) rotate(-90)" text-anchor="middle">Axial ratio (dB)</text>
<text transform="translate(1582.3 564.3) rotate(-90)" text-anchor="middle">Gain (dBic)</text>
</g>
</svg>
</body></html>
